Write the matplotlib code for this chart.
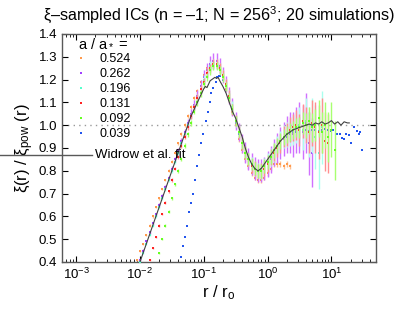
import numpy as np
import matplotlib
matplotlib.use('Agg')
import matplotlib.pyplot as plt
from matplotlib.lines import Line2D

plt.rcParams['font.family'] = ['Liberation Sans', 'DejaVu Sans']
plt.rcParams['mathtext.fontset'] = 'custom'
plt.rcParams['mathtext.rm'] = 'Liberation Sans'
plt.rcParams['mathtext.it'] = 'Liberation Sans:italic'

# common log10(r/r0) bins
log_r = [-2.05, -2.0, -1.95, -1.9, -1.85, -1.8, -1.75, -1.7, -1.65, -1.6, -1.55, -1.5,
         -1.45, -1.4, -1.35, -1.3, -1.25, -1.2, -1.15, -1.1, -1.05, -1.0, -0.95, -0.9,
         -0.85, -0.8, -0.75, -0.7, -0.65, -0.6, -0.55, -0.5, -0.45, -0.4, -0.35, -0.3,
         -0.25, -0.2, -0.15, -0.1, -0.05, 0.0, 0.05, 0.1, 0.15, 0.2, 0.25, 0.3,
         0.35, 0.4, 0.45, 0.5, 0.55, 0.6, 0.65, 0.7, 0.75, 0.8, 0.85, 0.9, 0.95, 1.0, 1.05]

# a/a* = 0.524
orange_start = -2.05
orange_y = [0.41, 0.45, 0.48, 0.52, 0.56, 0.60, 0.64, 0.68, 0.72, 0.76, 0.80, 0.84, 0.88, 0.92, 0.96, 1.00,
            1.04, 1.08, 1.12, 1.15, 1.19, 1.22, 1.25, 1.26, 1.27, 1.26, 1.24, 1.21, 1.16, 1.11, 1.06, 1.00,
            0.94, 0.89, 0.85, 0.82, 0.79, 0.77, 0.76, 0.76, 0.77, 0.79, 0.81, 0.83, 0.83, 0.83, 0.82, 0.83,
            0.82]
orange_err = [0.004, 0.004, 0.004, 0.005, 0.005, 0.005, 0.005, 0.006, 0.006, 0.006, 0.006, 0.007, 0.007, 0.007, 0.008, 0.008,
              0.008, 0.009, 0.009, 0.01, 0.01, 0.01, 0.011, 0.011, 0.012, 0.012, 0.012, 0.012, 0.012, 0.012, 0.012, 0.012,
              0.012, 0.012, 0.012, 0.012, 0.012, 0.012, 0.012, 0.012, 0.012, 0.012, 0.012, 0.012, 0.012, 0.012, 0.012, 0.012,
              0.012]

# a/a* = 0.262
purple_start = -2.0
purple_y = [0.41, 0.45, 0.49, 0.53, 0.57, 0.61, 0.65, 0.69, 0.73, 0.77, 0.81, 0.85, 0.89, 0.93, 0.97, 1.01,
            1.05, 1.09, 1.13, 1.17, 1.21, 1.24, 1.27, 1.28, 1.28, 1.26, 1.22, 1.18, 1.13, 1.08, 1.02, 0.97,
            0.92, 0.88, 0.85, 0.83, 0.81, 0.80, 0.80, 0.81, 0.83, 0.85, 0.88, 0.90, 0.92, 0.94, 0.96, 0.97,
            0.96, 0.98, 0.99, 0.97, 1.01, 0.92, 0.88]
purple_err = [0.005, 0.005, 0.005, 0.006, 0.006, 0.007, 0.007, 0.008, 0.008, 0.009, 0.01, 0.011, 0.012, 0.013, 0.015, 0.017,
              0.02, 0.022, 0.025, 0.027, 0.03, 0.032, 0.034, 0.035, 0.035, 0.035, 0.035, 0.036, 0.037, 0.038, 0.04, 0.04,
              0.042, 0.045, 0.048, 0.05, 0.05, 0.05, 0.05, 0.052, 0.055, 0.058, 0.06, 0.065, 0.07, 0.075, 0.08, 0.09,
              0.1, 0.1, 0.11, 0.12, 0.13, 0.14, 0.15]

# a/a* = 0.196
cyan_start = -2.0
cyan_y = [0.40, 0.44, 0.48, 0.52, 0.56, 0.60, 0.64, 0.68, 0.72, 0.76, 0.80, 0.84, 0.88, 0.92, 0.96, 1.00,
          1.04, 1.08, 1.12, 1.16, 1.20, 1.23, 1.26, 1.27, 1.27, 1.25, 1.22, 1.18, 1.13, 1.08, 1.02, 0.97,
          0.92, 0.88, 0.85, 0.83, 0.81, 0.80, 0.80, 0.82, 0.84, 0.86, 0.88, 0.91, 0.93, 0.95, 0.96, 0.97,
          0.98, 0.99, 1.00, 0.98, 1.02, 0.97, 1.00, 0.95, 0.88, 0.99]
cyan_err = [0.004, 0.004, 0.005, 0.005, 0.005, 0.006, 0.006, 0.006, 0.007, 0.007, 0.008, 0.008, 0.009, 0.01, 0.011, 0.012,
            0.014, 0.015, 0.017, 0.018, 0.02, 0.02, 0.022, 0.022, 0.022, 0.022, 0.022, 0.023, 0.024, 0.025, 0.026, 0.027,
            0.028, 0.03, 0.03, 0.032, 0.032, 0.033, 0.034, 0.035, 0.036, 0.038, 0.04, 0.042, 0.045, 0.05, 0.055, 0.06,
            0.065, 0.07, 0.08, 0.09, 0.1, 0.11, 0.12, 0.14, 0.16, 0.16]

# a/a* = 0.131
red_start = -1.85
red_y = [0.41, 0.46, 0.51, 0.56, 0.61, 0.66, 0.71, 0.76, 0.81, 0.86, 0.91, 0.95, 0.99, 1.04, 1.08, 1.12,
         1.16, 1.19, 1.23, 1.25, 1.27, 1.27, 1.25, 1.22, 1.18, 1.13, 1.07, 1.02, 0.97, 0.92, 0.88, 0.85,
         0.82, 0.81, 0.80, 0.80, 0.81, 0.83, 0.86, 0.88, 0.90, 0.92, 0.95, 0.96, 0.98, 0.99, 1.00, 0.98,
         1.02, 1.00, 0.97, 1.01, 0.99, 0.97, 1.00, 0.93, 0.92]
red_err = [0.004, 0.004, 0.005, 0.005, 0.005, 0.006, 0.006, 0.007, 0.007, 0.008, 0.009, 0.01, 0.011, 0.012, 0.014, 0.015,
           0.017, 0.018, 0.02, 0.02, 0.021, 0.021, 0.021, 0.022, 0.022, 0.023, 0.024, 0.025, 0.026, 0.027, 0.028, 0.03,
           0.03, 0.031, 0.032, 0.033, 0.034, 0.035, 0.036, 0.038, 0.04, 0.042, 0.045, 0.05, 0.055, 0.06, 0.065, 0.07,
           0.075, 0.08, 0.09, 0.1, 0.11, 0.12, 0.12, 0.13, 0.13]

# a/a* = 0.092
green_start = -1.7
green_y = [0.44, 0.50, 0.56, 0.62, 0.68, 0.74, 0.80, 0.85, 0.91, 0.96, 1.01, 1.06, 1.10, 1.14, 1.18, 1.21,
           1.24, 1.26, 1.26, 1.24, 1.21, 1.17, 1.12, 1.07, 1.02, 0.97, 0.92, 0.88, 0.85, 0.83, 0.81, 0.80,
           0.80, 0.82, 0.84, 0.86, 0.89, 0.91, 0.93, 0.95, 0.96, 0.97, 0.98, 0.99, 0.99, 1.01, 1.00, 1.02,
           0.99, 1.00, 1.03, 0.97, 1.00, 0.95, 0.98, 0.89]
green_err = [0.004, 0.005, 0.005, 0.006, 0.006, 0.007, 0.008, 0.009, 0.01, 0.011, 0.012, 0.013, 0.014, 0.015, 0.016, 0.017,
             0.018, 0.018, 0.018, 0.018, 0.019, 0.02, 0.02, 0.021, 0.022, 0.023, 0.024, 0.025, 0.026, 0.027, 0.028, 0.03,
             0.03, 0.03, 0.03, 0.03, 0.032, 0.033, 0.034, 0.035, 0.036, 0.038, 0.04, 0.042, 0.045, 0.05, 0.055, 0.06,
             0.065, 0.07, 0.08, 0.09, 0.1, 0.11, 0.12, 0.13]

# a/a* = 0.039 (own bins)
blue_logr = [-1.35, -1.32, -1.29, -1.26, -1.225, -1.195, -1.165, -1.13, -1.10, -1.07, -1.04, -1.005,
             -0.97, -0.94, -0.91, -0.88, -0.85, -0.815, -0.79, -0.765, -0.74,
             -0.70, -0.65, -0.6, -0.55, -0.5, -0.45, -0.4, -0.35, -0.3, -0.25, -0.2, -0.15, -0.1, -0.05,
             0.0, 0.05, 0.1, 0.15, 0.2, 0.25, 0.3, 0.35, 0.4, 0.45, 0.5, 0.55, 0.6, 0.65, 0.7, 0.75,
             0.8, 0.85, 0.9, 0.95, 1.0, 1.02,
             1.08, 1.14, 1.17, 1.20, 1.23, 1.27, 1.30, 1.355, 1.395, 1.43, 1.45, 1.48]
blue_y = [0.42, 0.47, 0.51, 0.56, 0.62, 0.66, 0.70, 0.76, 0.82, 0.87, 0.92, 0.96,
          1.02, 1.06, 1.10, 1.14, 1.165, 1.19, 1.21, 1.215, 1.215,
          1.20, 1.16, 1.11, 1.06, 1.01, 0.96, 0.92, 0.88, 0.85, 0.83, 0.81, 0.80, 0.81, 0.82,
          0.84, 0.86, 0.88, 0.90, 0.92, 0.94, 0.95, 0.96, 0.97, 0.97, 0.98, 0.98, 0.98, 0.975, 0.98, 0.98,
          0.975, 0.98, 0.985, 0.98, 0.975, 0.98,
          0.96, 0.96, 0.945, 0.94, 0.96, 0.955, 0.92, 0.99, 0.975, 0.96, 0.97, 0.89]

# Widrow et al. fit
fit_logr = [-2.0, -1.95, -1.9, -1.85, -1.8, -1.75, -1.7, -1.65, -1.6, -1.55, -1.5, -1.45, -1.4, -1.35,
            -1.3, -1.25, -1.2, -1.15, -1.1, -1.05, -1.0, -0.975, -0.95, -0.925, -0.9, -0.875, -0.85,
            -0.825, -0.8, -0.775, -0.75, -0.7, -0.65, -0.6, -0.55, -0.5, -0.45, -0.4, -0.35, -0.3,
            -0.25, -0.2, -0.15, -0.1, -0.05, 0.0, 0.05, 0.1, 0.15, 0.2, 0.25, 0.3, 0.35, 0.4, 0.45,
            0.5, 0.55, 0.6, 0.65, 0.7, 0.75, 0.8, 0.85, 0.9, 0.95, 1.0, 1.05, 1.1, 1.15, 1.2, 1.25, 1.28]
fit_y = [0.40, 0.44, 0.48, 0.52, 0.56, 0.60, 0.64, 0.68, 0.72, 0.76, 0.80, 0.84, 0.88, 0.92,
         0.96, 1.00, 1.04, 1.07, 1.10, 1.13, 1.16, 1.17, 1.165, 1.18, 1.195, 1.20, 1.205,
         1.21, 1.205, 1.21, 1.195, 1.17, 1.14, 1.10, 1.06, 1.03, 0.99, 0.95, 0.90, 0.86,
         0.83, 0.81, 0.80, 0.81, 0.83, 0.85, 0.87, 0.89, 0.91, 0.93, 0.945, 0.96, 0.97, 0.98, 0.985,
         0.99, 0.995, 1.0, 1.005, 1.0, 1.01, 1.005, 1.015, 1.005, 1.01, 1.02, 1.005, 1.015, 1.0, 1.015, 1.01, 1.01]

labels = ['0.524', '0.262', '0.196', '0.131', '0.092', '0.039']
colors = ['#ff9a4d', '#a040ff', '#55ffcc', '#ff2222', '#66ff22', '#2255ee']
err_colors = ['#ffc090', '#d070ff', '#aaffee', '#ff8f8f', '#a8ff70', '#7799ff']


def bins_for(start, n):
    i0 = log_r.index(start)
    return 10 ** np.array(log_r[i0:i0 + n])


fig = plt.figure(figsize=(4.15, 3.13), dpi=100)
ax = fig.add_axes([62 / 415, 51 / 313, 314 / 415, 228 / 313])

# blue first, underneath the rest
ax.plot(10 ** np.array(blue_logr), blue_y, 's', ms=2.0, mew=0, color=colors[5], zorder=1)

series = [(orange_start, orange_y, orange_err), (purple_start, purple_y, purple_err),
          (cyan_start, cyan_y, cyan_err), (red_start, red_y, red_err),
          (green_start, green_y, green_err)]
for k, (s, y, e) in enumerate(series):
    r = bins_for(s, len(y))
    ax.errorbar(r, y, yerr=e, fmt='s', ms=2.0, mew=0, color=colors[k],
                ecolor=err_colors[k], elinewidth=1.0, capsize=0, zorder=2 + k)

ax.plot(10 ** np.array(fit_logr), fit_y, '-', color='0.25', lw=0.8, zorder=10)
ax.axhline(1.0, color='0.6', ls=(0, (1, 3)), lw=1.0, zorder=0)

ax.set_xscale('log')
ax.set_xlim(6e-4, 50)
ax.set_ylim(0.4, 1.4)
ax.set_yticks(np.arange(0.4, 1.41, 0.1))
ax.set_yticklabels(['%.1f' % v for v in np.arange(0.4, 1.41, 0.1)])
ax.tick_params(which='both', direction='in', top=True, right=True, labelsize=9.5)
ax.tick_params(which='major', length=4)
ax.tick_params(which='minor', length=2)
for sp in ax.spines.values():
    sp.set_color('0.35')
    sp.set_linewidth(1.0)

ax.set_title('ξ–sampled ICs (n = –1; N = 256$^3$; 20 simulations)', fontsize=11.6, pad=10)
ax.set_xlabel('r / r$_{\\mathrm{o}}$', fontsize=12, labelpad=1)
ax.set_ylabel('ξ(r) / ξ$_{\\mathrm{pow}}$ (r)', fontsize=12, labelpad=2)

handles = [Line2D([], [], ls='none', marker='s', ms=2.0, mew=0, color=c) for c in colors]
leg = ax.legend(handles, labels, title='a / a$_*$ =', loc='upper left',
                bbox_to_anchor=(72 / 415, 1 - 30 / 313), bbox_transform=fig.transFigure,
                frameon=False, fontsize=9, title_fontsize=10.5, handlelength=0.5,
                handletextpad=1.2, labelspacing=0.24, borderpad=0, alignment='left')

fig.add_artist(Line2D([0, 92 / 415], [1 - 155 / 313, 1 - 155 / 313], color='0.35', lw=1.0))
fig.text(95 / 415, 1 - 155 / 313, 'Widrow et al. fit', fontsize=9.5, va='center', ha='left')

fig.savefig('out.png', dpi=100)
